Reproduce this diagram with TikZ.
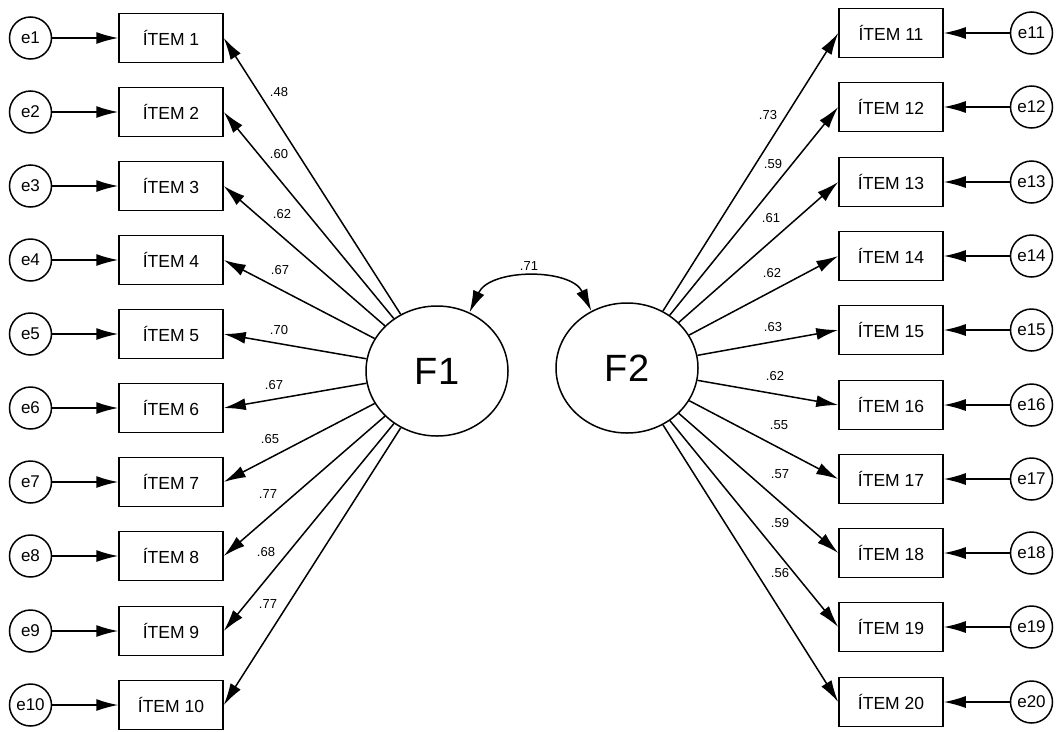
\documentclass[tikz,border=0pt]{standalone}
\usepackage{fontspec}
\setmainfont{Liberation Sans}
\usetikzlibrary{arrows.meta,shapes.geometric}

\begin{document}
\begin{tikzpicture}[x=1pt, y=-1pt,
    item/.style={draw, line width=1.5pt, minimum width=104pt, minimum height=49pt, inner sep=0pt, font=\fontsize{17.5}{17.5}\selectfont},
    err/.style={circle, draw, line width=1.5pt, minimum size=42pt, inner sep=0pt, font=\fontsize{17}{17}\selectfont},
    fac/.style={ellipse, draw, line width=1.5pt, minimum width=142pt, minimum height=130pt, font=\fontsize{38}{38}\selectfont},
    path/.style={line width=1.5pt, -{Latex[length=22pt,width=12pt]}},
    lab/.style={font=\fontsize{13}{13}\selectfont}]
    \useasboundingbox (0,0) rectangle (1059,731);
    % factors
    \node[fac] (F1) at (437,371) {F1};
    \node[fac] (F2) at (627,368) {F2};
    \draw[line width=1.5pt, {Latex[length=22pt,width=12pt]}-{Latex[length=22pt,width=12pt]}] (F1.61) .. controls (490,268) and (571,268) .. (F2.122);
    \node[lab] (c12) at (529,266) {.71};
    % left items
    \node[item] (i1) at (171,38) {ÍTEM 1};
    \node[item] (i2) at (171,112) {ÍTEM 2};
    \node[item] (i3) at (171,186) {ÍTEM 3};
    \node[item] (i4) at (171,260) {ÍTEM 4};
    \node[item] (i5) at (171,334) {ÍTEM 5};
    \node[item] (i6) at (171,408) {ÍTEM 6};
    \node[item] (i7) at (171,482) {ÍTEM 7};
    \node[item] (i8) at (171,556) {ÍTEM 8};
    \node[item] (i9) at (171,631) {ÍTEM 9};
    \node[item] (i10) at (171,705) {ÍTEM 10};
    \node[err] (e1) at (30.5,38) {e1};
    \node[err] (e2) at (30.5,112) {e2};
    \node[err] (e3) at (30.5,186) {e3};
    \node[err] (e4) at (30.5,260) {e4};
    \node[err] (e5) at (30.5,334) {e5};
    \node[err] (e6) at (30.5,408) {e6};
    \node[err] (e7) at (30.5,482) {e7};
    \node[err] (e8) at (30.5,556) {e8};
    \node[err] (e9) at (30.5,631) {e9};
    \node[err] (e10) at (30.5,705) {e10};
    % right items
    \node[item] (i11) at (891,33) {ÍTEM 11};
    \node[item] (i12) at (891,107) {ÍTEM 12};
    \node[item] (i13) at (891,182) {ÍTEM 13};
    \node[item] (i14) at (891,256) {ÍTEM 14};
    \node[item] (i15) at (891,330) {ÍTEM 15};
    \node[item] (i16) at (891,405) {ÍTEM 16};
    \node[item] (i17) at (891,479) {ÍTEM 17};
    \node[item] (i18) at (891,553) {ÍTEM 18};
    \node[item] (i19) at (891,627) {ÍTEM 19};
    \node[item] (i20) at (891,702) {ÍTEM 20};
    \node[err] (e11) at (1031.5,33) {e11};
    \node[err] (e12) at (1031.5,107) {e12};
    \node[err] (e13) at (1031.5,182) {e13};
    \node[err] (e14) at (1031.5,256) {e14};
    \node[err] (e15) at (1031.5,330) {e15};
    \node[err] (e16) at (1031.5,405) {e16};
    \node[err] (e17) at (1031.5,479) {e17};
    \node[err] (e18) at (1031.5,553) {e18};
    \node[err] (e19) at (1031.5,627) {e19};
    \node[err] (e20) at (1031.5,702) {e20};
    % errors
    \draw[path] (e1) -- (i1);
    \draw[path] (e2) -- (i2);
    \draw[path] (e3) -- (i3);
    \draw[path] (e4) -- (i4);
    \draw[path] (e5) -- (i5);
    \draw[path] (e6) -- (i6);
    \draw[path] (e7) -- (i7);
    \draw[path] (e8) -- (i8);
    \draw[path] (e9) -- (i9);
    \draw[path] (e10) -- (i10);
    \draw[path] (e11) -- (i11);
    \draw[path] (e12) -- (i12);
    \draw[path] (e13) -- (i13);
    \draw[path] (e14) -- (i14);
    \draw[path] (e15) -- (i15);
    \draw[path] (e16) -- (i16);
    \draw[path] (e17) -- (i17);
    \draw[path] (e18) -- (i18);
    \draw[path] (e19) -- (i19);
    \draw[path] (e20) -- (i20);
    % loadings
    \draw[path] (F1) -- (i1.east);
    \draw[path] (F1) -- (i2.east);
    \draw[path] (F1) -- (i3.east);
    \draw[path] (F1) -- (i4.east);
    \draw[path] (F1) -- (i5.east);
    \draw[path] (F1) -- (i6.east);
    \draw[path] (F1) -- (i7.east);
    \draw[path] (F1) -- (i8.east);
    \draw[path] (F1) -- (i9.east);
    \draw[path] (F1) -- (i10.east);
    \draw[path] (F2) -- (i11.west);
    \draw[path] (F2) -- (i12.west);
    \draw[path] (F2) -- (i13.west);
    \draw[path] (F2) -- (i14.west);
    \draw[path] (F2) -- (i15.west);
    \draw[path] (F2) -- (i16.west);
    \draw[path] (F2) -- (i17.west);
    \draw[path] (F2) -- (i18.west);
    \draw[path] (F2) -- (i19.west);
    \draw[path] (F2) -- (i20.west);
    \node[lab] (l1) at (279,92) {.48};
    \node[lab] (l2) at (279,154) {.60};
    \node[lab] (l3) at (282,214) {.62};
    \node[lab] (l4) at (280,270) {.67};
    \node[lab] (l5) at (279,330) {.70};
    \node[lab] (l6) at (274,385) {.67};
    \node[lab] (l7) at (270,439) {.65};
    \node[lab] (l8) at (268,494) {.77};
    \node[lab] (l9) at (266,552) {.68};
    \node[lab] (l10) at (268,604) {.77};
    \node[lab] (l11) at (768,115) {.73};
    \node[lab] (l12) at (773,164) {.59};
    \node[lab] (l13) at (771,218) {.61};
    \node[lab] (l14) at (772,273) {.62};
    \node[lab] (l15) at (773,327) {.63};
    \node[lab] (l16) at (775,376) {.62};
    \node[lab] (l17) at (779,425) {.55};
    \node[lab] (l18) at (780,474) {.57};
    \node[lab] (l19) at (780,523) {.59};
    \node[lab] (l20) at (780,573) {.56};
\end{tikzpicture}
\end{document}
